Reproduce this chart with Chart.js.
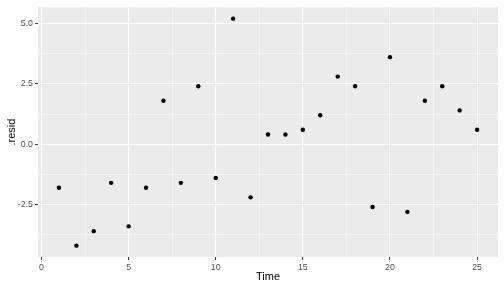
<!DOCTYPE html>
<html>
<head>
<meta charset="utf-8">
<script src="https://cdn.jsdelivr.net/npm/chart.js@4.4.0/dist/chart.umd.min.js"></script>
<style>
  html, body { margin: 0; padding: 0; background: #ffffff; }
  #wrap { width: 504px; height: 288px; }
</style>
</head>
<body>
<div id="wrap"><canvas id="chart" width="504" height="288"></canvas></div>
<script>
// data
const times = [1, 2, 3, 4, 5, 6, 7, 8, 9, 10, 11, 12, 13, 14, 15, 16, 17, 18, 19, 20, 21, 22, 23, 24, 25];
const resid = [-1.8, -4.2, -3.6, -1.6, -3.4, -1.8, 1.8, -1.6, 2.4, -1.4, 5.2, -2.2, 0.4, 0.4, 0.6, 1.2, 2.8, 2.4, -2.6, 3.6, -2.8, 1.8, 2.4, 1.4, 0.6];

// axis ticks
const xTicks = [0, 5, 10, 15, 20, 25];
const xMinor = [2.5, 7.5, 12.5, 17.5, 22.5];
const yTicks = [-2.5, 0, 2.5, 5];
const yMinor = [-3.75, -1.25, 1.25, 3.75];

const points = times.map((t, i) => ({ x: t, y: resid[i] }));

// grey panel behind the grid, like ggplot's theme_gray
const panelBg = {
    id: 'panelBg',
    beforeDraw(chart) {
        const a = chart.chartArea;
        const ctx = chart.ctx;
        ctx.save();
        ctx.fillStyle = '#EBEBEB';
        ctx.fillRect(a.left, a.top, a.right - a.left, a.bottom - a.top);
        ctx.restore();
    }
};

function setTicks(major, minor) {
    return function(scale) {
        scale.ticks = major.concat(minor).sort((a, b) => a - b).map(v => ({ value: v }));
    };
}

function gridFor(major) {
    return {
        color: '#FFFFFF',
        lineWidth: c => major.includes(c.tick.value) ? 1.1 : 0.55,
        tickColor: c => major.includes(c.tick.value) ? '#333333' : 'rgba(0,0,0,0)',
        tickWidth: 1,
        tickLength: 3,
        drawTicks: true
    };
}

const tickFont = { family: 'Liberation Sans, Arial, sans-serif', size: 8.8 };
const titleFont = { family: 'Liberation Sans, Arial, sans-serif', size: 11 };

new Chart(document.getElementById('chart'), {
    type: 'scatter',
    data: {
        datasets: [{
            data: points,
            backgroundColor: '#000000',
            borderWidth: 0,
            pointRadius: 2.2,
            pointHoverRadius: 2.2
        }]
    },
    options: {
        responsive: false,
        animation: false,
        events: [],
        layout: { padding: { top: 6, right: 6, left: 0, bottom: 0 } },
        plugins: { legend: { display: false }, tooltip: { enabled: false } },
        scales: {
            x: {
                type: 'linear',
                min: -0.2,
                max: 26.2,
                afterBuildTicks: setTicks(xTicks, xMinor),
                afterFit: s => { s.height = 31; },
                grid: gridFor(xTicks),
                border: { display: false },
                ticks: {
                    autoSkip: false,
                    maxRotation: 0,
                    padding: 2,
                    color: '#4D4D4D',
                    font: tickFont,
                    callback: v => xTicks.includes(v) ? String(v) : ''
                },
                title: { display: true, text: 'Time', color: '#000000', font: titleFont, padding: { top: 4.5, bottom: 4.5 } }
            },
            y: {
                type: 'linear',
                min: -4.67,
                max: 5.67,
                afterBuildTicks: setTicks(yTicks, yMinor),
                afterFit: s => { s.width = 38; },
                grid: gridFor(yTicks),
                border: { display: false },
                ticks: {
                    autoSkip: false,
                    padding: 2,
                    color: '#4D4D4D',
                    font: tickFont,
                    callback: v => yTicks.includes(v) ? v.toFixed(1) : ''
                },
                title: { display: true, text: '.resid', color: '#000000', font: titleFont, padding: { top: 5.5, bottom: 5.5 } }
            }
        }
    },
    plugins: [panelBg]
});
</script>
</body>
</html>
